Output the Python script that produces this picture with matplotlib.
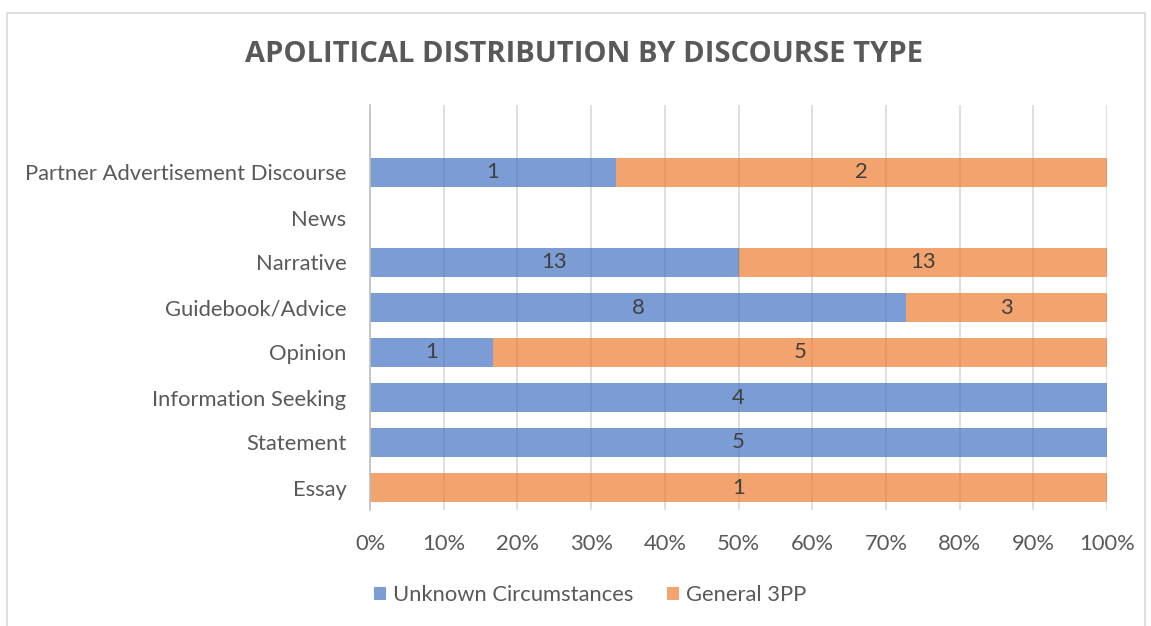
import matplotlib
matplotlib.use("Agg")
import matplotlib.pyplot as plt
from matplotlib.patches import Rectangle
import numpy as np

categories = ["Essay", "Statement", "Information Seeking", "Opinion",
              "Guidebook/Advice", "Narrative", "News",
              "Partner Advertisement Discourse"]
unknown = [0, 5, 4, 1, 8, 13, 0, 1]
general = [1, 0, 0, 5, 3, 13, 0, 2]
series_names = ["Unknown Circumstances", "General 3PP"]
colors = ["#4472C4", "#ED7D31"]
title = "APOLITICAL DISTRIBUTION BY DISCOURSE TYPE"

W, H = 1151, 626
fig = plt.figure(figsize=(W / 100, H / 100), dpi=100)
plt.rcParams["font.family"] = ["Lato", "DejaVu Sans"]
text_color = "#595959"
fs = 15.8

# chart frame
fig.patches.append(Rectangle((7 / W, -0.01), (1145 - 7) / W, 1 - 13 / H + 0.01,
                             transform=fig.transFigure, fill=False,
                             edgecolor="#D9D9D9", linewidth=1.2))

ax = fig.add_axes([370 / W, 1 - 510 / H, (1107 - 370) / W, (510 - 105) / H])

u = np.array(unknown, dtype=float)
g = np.array(general, dtype=float)
tot = u + g
safe = np.where(tot == 0, 1, tot)
pu = np.where(tot == 0, 0, u / safe)
pg = np.where(tot == 0, 0, g / safe)
y = np.arange(len(categories))

ax.barh(y, pu, height=0.66, color=colors[0], alpha=0.7, zorder=2,
        label=series_names[0])
ax.barh(y, pg, left=pu, height=0.66, color=colors[1], alpha=0.7, zorder=2,
        label=series_names[1])

for i in range(len(categories)):
    if u[i] > 0:
        ax.text(pu[i] / 2, y[i], f"{int(u[i])}", ha="center", va="center",
                fontsize=fs, color="#404040", zorder=3)
    if g[i] > 0:
        ax.text(pu[i] + pg[i] / 2, y[i], f"{int(g[i])}", ha="center",
                va="center", fontsize=fs, color="#404040", zorder=3)

ax.set_xlim(0, 1)
ax.set_ylim(-0.5, len(categories) + 0.5)
ax.set_yticks(y)
ax.set_yticklabels(categories)
ax.set_xticks(np.linspace(0, 1, 11))
ax.set_xticklabels([f"{int(round(v * 100))}%" for v in np.linspace(0, 1, 11)])
ax.tick_params(axis="both", length=0, labelsize=fs, colors=text_color)
ax.tick_params(axis="x", pad=17)
ax.tick_params(axis="y", pad=17)
ax.grid(axis="x", color="#D9D9D9", linewidth=1.2, zorder=1)
ax.set_axisbelow(True)
for s in ["top", "right", "bottom"]:
    ax.spines[s].set_visible(False)
ax.spines["left"].set_color("#BFBFBF")
ax.spines["left"].set_linewidth(1.2)
ax.spines["left"].set_zorder(4)

fig.text(584 / W, 1 - 55 / H, title, ha="center", va="center",
         fontsize=21, fontweight="bold", color=text_color,
         family=["Open Sans", "DejaVu Sans"])

handles, labels = ax.get_legend_handles_labels()
fig.legend(handles, labels, loc="center", bbox_to_anchor=(590 / W, 1 - 595 / H),
           ncol=2, frameon=False, fontsize=fs, labelcolor=text_color,
           handlelength=0.55, handleheight=0.55, handletextpad=0.3,
           columnspacing=1.55)

fig.savefig("out.png", dpi=100)
